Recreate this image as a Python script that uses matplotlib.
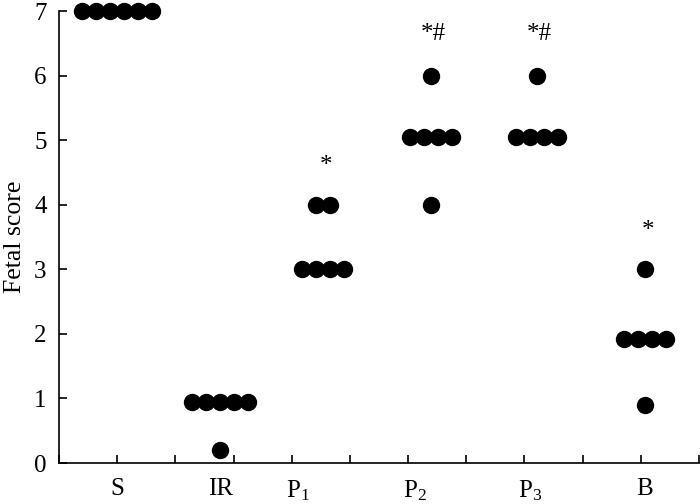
import matplotlib
matplotlib.use("Agg")
import matplotlib.pyplot as plt
import matplotlib.transforms as mtransforms
import numpy as np
from collections import Counter

plt.rcParams['font.family'] = ['Liberation Serif', 'DejaVu Serif']
plt.rcParams['mathtext.fontset'] = 'custom'
plt.rcParams['mathtext.rm'] = 'Liberation Serif'
plt.rcParams['mathtext.it'] = 'Liberation Serif'

# ---- data ----
groups = ["S", "IR", "P$_1$", "P$_2$", "P$_3$", "B"]
s_vals = [7, 7, 7, 7, 7, 7]
ir_vals = [0.95, 0.95, 0.95, 0.95, 0.95, 0.2]
p1_vals = [4, 4, 3, 3, 3, 3]
p2_vals = [6, 5.05, 5.05, 5.05, 5.05, 4]
p3_vals = [6, 5.05, 5.05, 5.05, 5.05]
b_vals = [3, 1.92, 1.92, 1.92, 1.92, 0.9]
marks = ["", "", "*", "*#", "*#", "*"]
mark_y = [None, None, 4.6, 6.65, 6.65, 3.6]

all_vals = [s_vals, ir_vals, p1_vals, p2_vals, p3_vals, b_vals]

# layout
group_x = [1.0, 2.77, 4.54, 6.39, 8.21, 10.07]
label_x = [1.0, 2.78, 4.1, 6.12, 8.1, 10.06]
dot_step = 0.24

fig = plt.figure(figsize=(7.0, 5.04), dpi=100)
ax = fig.add_axes([0.0843, 0.0813, 0.9143, 0.8967])

for gx, vals in zip(group_x, all_vals):
    counts = Counter(vals)
    xs, ys = [], []
    for v, n in counts.items():
        offs = (np.arange(n) - (n - 1) / 2) * dot_step
        xs.extend(gx + offs)
        ys.extend([v] * n)
    ax.plot(xs, ys, 'o', color='black', markersize=11.5, clip_on=False, zorder=3)

for gx, m, my in zip(group_x, marks, mark_y):
    if m:
        ax.text(gx + 0.05, my, m, ha='center', va='center', fontsize=18)

ax.set_xlim(0, 11)
ax.set_ylim(0, 7)
ax.set_xticks(range(12))
ax.set_xticklabels([])
ax.tick_params(axis='x', direction='in', length=6, width=1.2)

trans = mtransforms.blended_transform_factory(ax.transData, ax.transAxes)
for lx, g in zip(label_x, groups):
    ax.text(lx, -0.034, g, transform=trans, ha='center', va='top', fontsize=18)

ax.set_yticks(range(8))
ax.tick_params(axis='y', direction='in', length=6, width=1.2, labelsize=18, pad=9)

ax.spines['top'].set_visible(False)
ax.spines['right'].set_visible(False)
ax.spines['left'].set_linewidth(1.2)
ax.spines['bottom'].set_linewidth(1.2)

ax.set_ylabel("Fetal score", fontsize=18.5, labelpad=6)

fig.savefig("out.png", dpi=100)
